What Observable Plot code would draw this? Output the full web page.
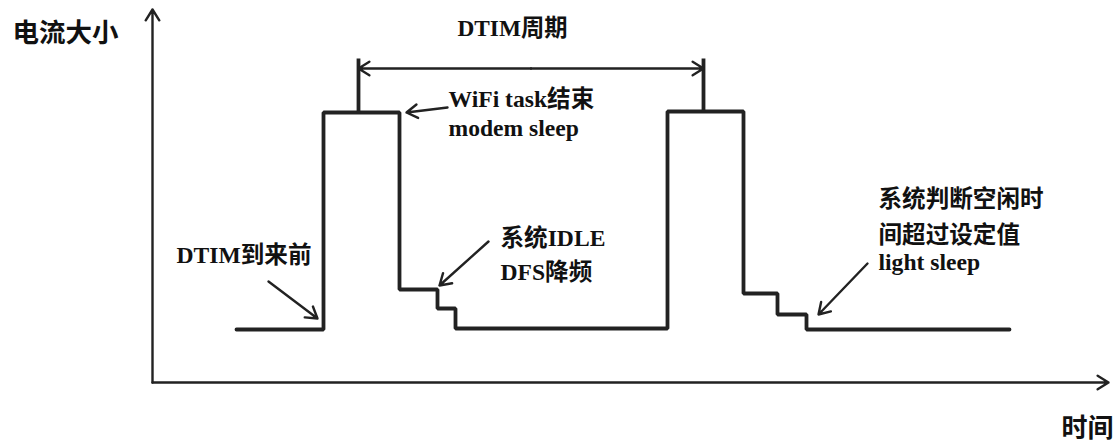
<!DOCTYPE html>
<html>
<head>
<meta charset="utf-8">
<script src="https://cdn.jsdelivr.net/npm/d3@7"></script>
<script src="https://cdn.jsdelivr.net/npm/@observablehq/plot@0.6"></script>
<style>
  html, body { margin: 0; padding: 0; background: #fff; }
  #chart svg { display: block; }
</style>
</head>
<body>
<div id="chart"></div>
<script>
// Waveform: time at which each state begins, and current level of that state
const times  = [84, 171, 247, 285, 303, 515, 591, 625, 654, 857];
const levels = [53, 270, 93, 74, 54, 271, 89, 68, 53, 53];

// DTIM markers (time) and their top height
const dtimTimes = [206, 551];
const dtimPulseTop = [270, 271];
const dtimMarkTop = 324;
const dtimArrowLevel = 314;

// Axis extents
const timeMax = 956;
const currentMax = 373;

// Annotations: label lines with anchor point
const labels = [
  {text: "电流大小", t: -140, c: 349, size: 26.5},
  {text: "时间", t: 909, c: -46, size: 26},
  {text: "DTIM周期", t: 305, c: 354, size: 23.3},
  {text: "WiFi task结束", t: 296, c: 283, size: 23.6},
  {text: "modem sleep", t: 296, c: 254, size: 23.6},
  {text: "DTIM到来前", t: 24, c: 127, size: 23.6},
  {text: "系统IDLE", t: 348, c: 144, size: 23.6},
  {text: "DFS降频", t: 348, c: 110, size: 23.6},
  {text: "系统判断空闲时", t: 726, c: 183, size: 23.6},
  {text: "间超过设定值", t: 726, c: 147, size: 23.6},
  {text: "light sleep", t: 726, c: 120, size: 23.6}
];

// Pointer arrows: from (t1,c1) to (t2,c2)
const pointers = [
  {t1: 116, c1: 101, t2: 165, c2: 64},
  {t1: 295, c1: 275, t2: 254, c2: 270},
  {t1: 336, c1: 141, t2: 287, c2: 97},
  {t1: 715, c1: 119, t2: 666, c2: 68}
];

const wave = times.map((t, i) => ({t, c: levels[i]}));
const sticks = dtimTimes.map((t, i) => ({t, c1: dtimPulseTop[i], c2: dtimMarkTop}));
const mid = (dtimTimes[0] + dtimTimes[1]) / 2;
const periodArrows = [
  {t1: mid, t2: dtimTimes[0], c: dtimArrowLevel},
  {t1: mid, t2: dtimTimes[1], c: dtimArrowLevel}
];
const axes = [
  {t1: 0, c1: 0, t2: 0, c2: currentMax},
  {t1: 0, c1: 0, t2: timeMax, c2: 0}
];

const ink = "#222";
const fontFamily = "'Liberation Serif', 'Noto Sans CJK SC', serif";

const plot = Plot.plot({
  width: 1118,
  height: 446,
  marginLeft: 152,
  marginRight: 8,
  marginTop: 10,
  marginBottom: 64,
  x: {domain: [0, 958], axis: null},
  y: {domain: [0, 372], axis: null},
  style: {background: "#fff", overflow: "visible"},
  marks: [
    Plot.arrow(axes, {x1: "t1", y1: "c1", x2: "t2", y2: "c2", stroke: ink, strokeWidth: 2.4, headLength: 8, headAngle: 64}),
    Plot.line(wave, {x: "t", y: "c", curve: "step-after", stroke: ink, strokeWidth: 3.8, strokeLinecap: "round", strokeLinejoin: "miter"}),
    Plot.link(sticks, {x1: "t", x2: "t", y1: "c1", y2: "c2", stroke: ink, strokeWidth: 3.8}),
    Plot.arrow(periodArrows, {x1: "t1", x2: "t2", y1: "c", y2: "c", stroke: ink, strokeWidth: 2.4, headLength: 8, headAngle: 64}),
    Plot.arrow(pointers, {x1: "t1", y1: "c1", x2: "t2", y2: "c2", stroke: ink, strokeWidth: 2.4, headLength: 8, headAngle: 64}),
    Plot.text(labels, {x: "t", y: "c", text: "text", fontSize: d => d.size, textAnchor: "start", lineAnchor: "middle", fontWeight: "bold", fontFamily, fill: "#111"})
  ]
});
document.getElementById("chart").appendChild(plot);
</script>
</body>
</html>
